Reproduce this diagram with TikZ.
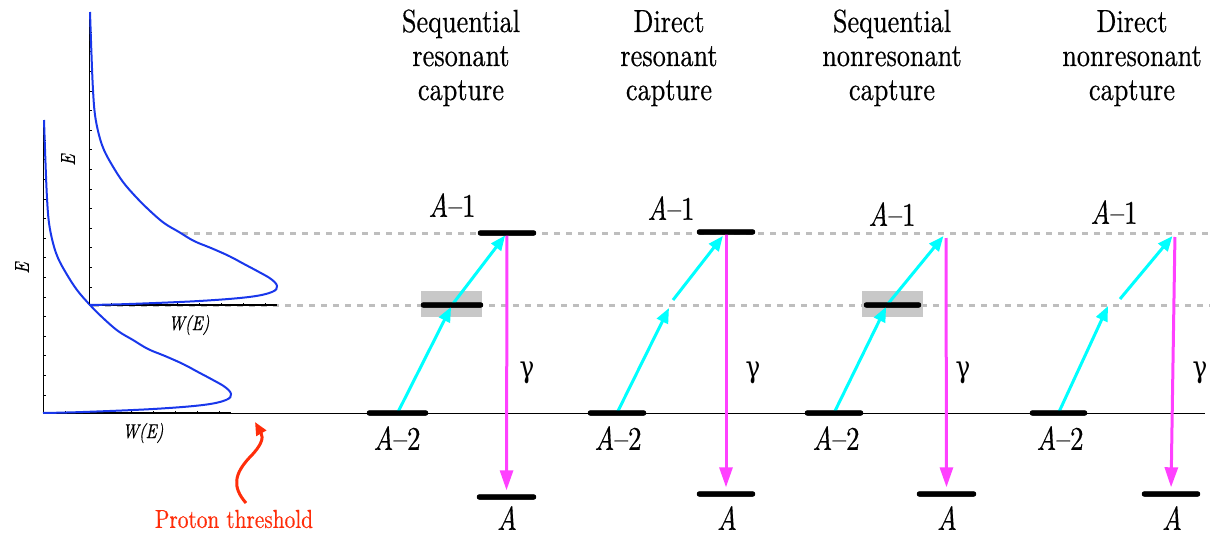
\documentclass[tikz,border=0pt]{standalone}
\usepackage{fontspec}
\setmainfont{lmroman10-regular.otf}[ItalicFont=lmroman10-italic.otf, FakeBold=0.5]
\newfontfamily\greekfont{DejaVu Serif}
\usetikzlibrary{arrows.meta}

\definecolor{wblue}{RGB}{25,55,235}
\definecolor{feedcyan}{RGB}{0,255,255}
\definecolor{gammag}{RGB}{255,64,255}
\definecolor{guidegray}{RGB}{190,190,190}
\definecolor{boxgray}{RGB}{200,200,200}
\definecolor{thrred}{RGB}{255,45,10}

\tikzset{
  lvlbar/.style={fill=black, rounded corners=2.5pt, minimum height=5pt, inner sep=0pt, minimum width=#1},
  feed/.style={feedcyan, line width=3pt, -{Triangle[length=15pt,width=12pt]}},
  gam/.style={gammag, line width=3pt, -{Triangle[length=20pt,width=13pt]}},
  guide/.style={guidegray, line width=3pt, dash pattern=on 6pt off 6pt},
  thresh/.style={black, line width=1pt},
  axis/.style={black, line width=0.8pt},
  wline/.style={wblue, line width=2pt},
  ttl/.style={font=\fontsize{32}{34}\selectfont, inner sep=0pt, anchor=north},
  lab/.style={font=\fontsize{33}{36}\selectfont, inner sep=0pt},
  gamlab/.style={font=\fontsize{30}{36}\selectfont\greekfont, inner sep=0pt},
  axlab/.style={font=\fontsize{20}{24}\selectfont\itshape, inner sep=0pt},
  thrarrow/.style={thrred, line width=3pt, -{Triangle[length=13pt,width=11pt]}}
}

% narrow type, as in the original figure
\newcommand\squeeze[1]{\scalebox{0.82}[1]{#1}}
\newcommand\ttltext[3]{\squeeze{\begin{tabular}{@{}c@{}}#1\\#2\\#3\end{tabular}}}

\newcommand\wcurve{plot[smooth,tension=0.6] coordinates {(0,0) (40,-1) (110,-4) (160,-8) (183,-13) (188,-19) (182,-26) (170,-33) (155,-41) (140,-49) (122,-57) (105,-64) (90,-73) (75,-82) (60,-95) (47,-108) (34,-123) (23,-140) (15,-155) (10,-170) (6,-190) (4,-215) (2.5,-250) (1,-293)}}

\begin{document}
\begin{tikzpicture}[x=1pt,y=-1pt]
\useasboundingbox (0,0) rectangle (1216,535);

% level guides and threshold
\draw[guide] (182,233) -- (1210,233);
\draw[guide] (93,305) -- (1210,305);
\draw[thresh] (43,413) -- (1205,413);

% the two W(E) plots
\foreach \ox/\oy/\k in {43/413/1, 89/305/2} {
  \draw[axis] (\ox,\oy) -- (\ox,{\oy-293});
  \draw[axis, line width=1.5pt] (\ox,\oy) -- ++(188,0);
  \foreach \j in {0,...,13}
    \draw[axis] (\ox,{\oy-18-19.6*\j}) -- ++(3,0);
  \foreach \j in {1,...,8}
    \draw[axis] ({\ox+22*\j},\oy) -- ++(0,-2);
  \draw[wline, shift={(\ox,\oy)}] \wcurve;
  \node[axlab, rotate=90] (e\k) at ({\ox-21},{\oy-145}) {\squeeze{E}};
  \node[axlab] (w\k) at ({\ox+100},{\oy+20}) {\squeeze{W(E)}};
}

% headings
\node[ttl] (h1) at (461,8) {\ttltext{Sequential}{resonant}{capture}};
\node[ttl] (h2) at (669,8) {\ttltext{Direct}{resonant}{capture}};
\node[ttl] (h3) at (892,8) {\ttltext{Sequential}{nonresonant}{capture}};
\node[ttl] (h4) at (1132,8) {\ttltext{Direct}{nonresonant}{capture}};

% resonance widths
\fill[boxgray] (421,291) rectangle (482,317);
\fill[boxgray] (862,291) rectangle (923,317);

% free points
\coordinate (c2a) at (669,308);
\coordinate (c2b) at (673,300);
\coordinate (x3) at (887,305);
\coordinate (t3) at (946,233);
\coordinate (c4a) at (1108,306);
\coordinate (c4b) at (1120,299);
\coordinate (t4) at (1175,233);

% levels
\node[lvlbar=61pt] (lo1) at (397.5,413) {};
\node[lvlbar=62pt] (mid1) at (452,305) {};
\node[lvlbar=58pt] (hi1) at (507,233) {};
\node[lvlbar=59pt] (gs1) at (506.5,497) {};

\node[lvlbar=58pt] (lo2) at (617,413) {};
\node[lvlbar=58pt] (hi2) at (726,232) {};
\node[lvlbar=58pt] (gs2) at (726,494) {};

\node[lvlbar=58pt] (lo3) at (834,413) {};
\node[lvlbar=57pt] (mid3) at (892.5,305) {};
\node[lvlbar=59pt] (gs3) at (946.5,494) {};

\node[lvlbar=57pt] (lo4) at (1058.5,413) {};
\node[lvlbar=58pt] (gs4) at (1171,494) {};

% proton captures
\draw[feed, shorten >=2pt] (lo1.center) -- (mid1.center);
\draw[feed, shorten >=3pt] (mid1.center) -- (hi1.center);
\draw[feed] (lo2.center) -- (c2a);
\draw[feed, shorten >=5pt] (c2b) -- (hi2.center);
\draw[feed, shorten >=2pt] (lo3.center) -- (x3);
\draw[feed, shorten >=4pt] (x3) -- (t3);
\draw[feed] (lo4.center) -- (c4a);
\draw[feed, shorten >=4pt] (c4b) -- (t4);

% gamma decays
\draw[gam, shorten <=2pt, shorten >=4pt] (hi1.center) -- (gs1.north);
\draw[gam, shorten <=2pt, shorten >=4pt] (hi2.center) -- (gs2.north);
\draw[gam, shorten <=5pt, shorten >=4pt] (t3) -- (gs3.north);
\draw[gam, shorten <=4pt, shorten >=4pt] (t4) -- (gs4.north);

% bars back on top of the arrows
\foreach \b in {lo1,mid1,hi1,gs1,lo2,hi2,gs2,lo3,mid3,gs3,lo4,gs4}
  \fill[rounded corners=2.5pt] (\b.south west) rectangle (\b.north east);

% level labels
\node[lab] (l1a) at (452,205) {\squeeze{\textit{A}--1}};
\node[lab] (l1b) at (397,438) {\squeeze{\textit{A}--2}};
\node[lab] (l1c) at (507,518) {\squeeze{\textit{A}}};
\node[gamlab] (g1) at (527,373) {\squeeze{γ}};

\node[lab] (l2a) at (671,208) {\squeeze{\textit{A}--1}};
\node[lab] (l2b) at (618,438) {\squeeze{\textit{A}--2}};
\node[lab] (l2c) at (727,518) {\squeeze{\textit{A}}};
\node[gamlab] (g2) at (753,373) {\squeeze{γ}};

\node[lab] (l3a) at (892,214) {\squeeze{\textit{A}--1}};
\node[lab] (l3b) at (836,438) {\squeeze{\textit{A}--2}};
\node[lab] (l3c) at (947,518) {\squeeze{\textit{A}}};
\node[gamlab] (g3) at (963,373) {\squeeze{γ}};

\node[lab] (l4a) at (1114,212) {\squeeze{\textit{A}--1}};
\node[lab] (l4b) at (1060,438) {\squeeze{\textit{A}--2}};
\node[lab] (l4c) at (1172,518) {\squeeze{\textit{A}}};
\node[gamlab] (g4) at (1200,373) {\squeeze{γ}};

% threshold marker
\node[thrred, font=\fontsize{26}{30}\selectfont, inner sep=0pt] (thr) at (234,519) {\squeeze{Proton threshold}};
\coordinate (thrtip) at (255,422);
\draw[thrarrow] (246,503) .. controls (232,487) and (234,474) .. (250,457) .. controls (261,446) and (264,438) .. (thrtip);
\end{tikzpicture}
\end{document}
